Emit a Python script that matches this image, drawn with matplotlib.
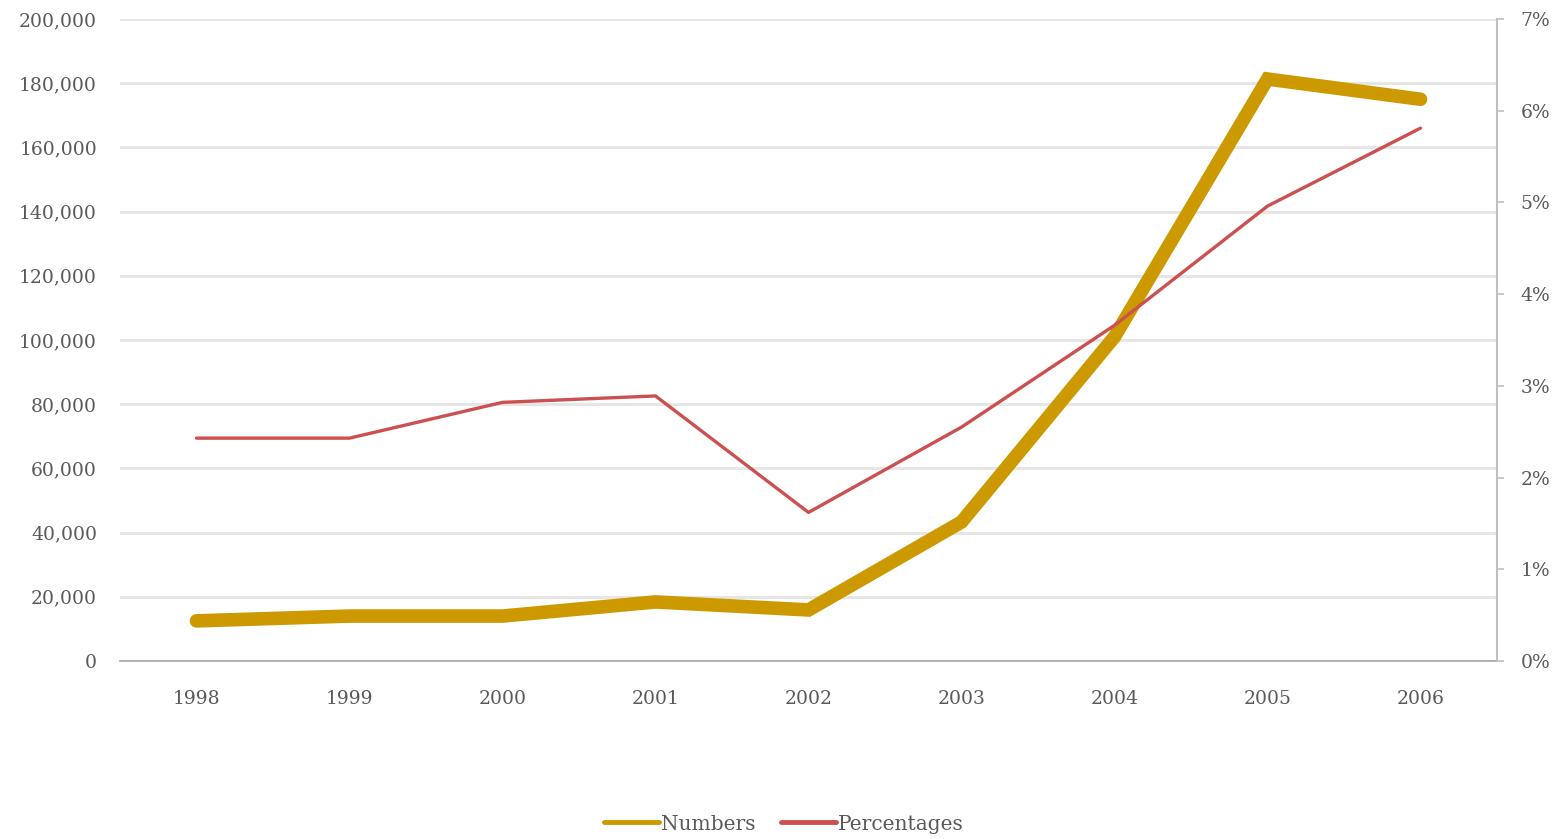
import matplotlib
matplotlib.use("Agg")
import matplotlib.pyplot as plt
from matplotlib.ticker import FuncFormatter

years = ["1998", "1999", "2000", "2001", "2002", "2003", "2004", "2005", "2006"]
numbers = [12500, 14000, 14000, 18400, 15900, 43300, 101000, 181300, 175000]
percentages = [2.43, 2.43, 2.82, 2.89, 1.62, 2.55, 3.66, 4.96, 5.81]

plt.rcParams['font.family'] = ['DejaVu Serif']
txt = '#595959'

fig = plt.figure(figsize=(15.68, 8.39), dpi=100)
ax = fig.add_axes([120/1568, 1-661/839, (1497-120)/1568, (661-19)/839])
ax2 = ax.twinx()

x = list(range(len(years)))
l1, = ax.plot(x, numbers, color='#CC9900', lw=9.8, solid_capstyle='round', solid_joinstyle='miter', label='Numbers', zorder=3)
l2, = ax2.plot(x, percentages, color='#CC5050', lw=2.4, solid_capstyle='round', label='Percentages', zorder=3)

ax.set_xlim(-0.5, 8.5)
ax.set_ylim(0, 200000)
ax2.set_ylim(0, 7)
ax.set_yticks(range(0, 200001, 20000))
ax.yaxis.set_major_formatter(FuncFormatter(lambda v, p: f"{int(v):,}"))
ax2.set_yticks(range(0, 8))
ax2.yaxis.set_major_formatter(FuncFormatter(lambda v, p: f"{int(v)}%"))
ax.set_xticks(x)
ax.set_xticklabels(years)

ax.grid(axis='y', color='#E6E6E6', lw=2.2)
ax.set_axisbelow(True)
for s in ['top', 'left', 'right']:
    ax.spines[s].set_visible(False)
ax.spines['bottom'].set_color('#A6A6A6')
ax.spines['bottom'].set_linewidth(1.2)
for s in ['top', 'left', 'bottom']:
    ax2.spines[s].set_visible(False)
ax2.spines['right'].set_color('#BFBFBF')
ax2.spines['right'].set_linewidth(1.5)

fs = 13.5
ax.tick_params(axis='y', length=0, labelsize=fs, labelcolor=txt, pad=16.5)
ax.tick_params(axis='x', length=0, labelsize=fs, labelcolor=txt, pad=21)
ax2.tick_params(axis='y', length=5, width=1.2, color='#BFBFBF', labelsize=fs, labelcolor=txt, pad=12, direction='out')

fig.legend(handles=[l1, l2], labels=['Numbers', 'Percentages'], loc='center', bbox_to_anchor=(0.5, 1-824/839),
           ncol=2, frameon=False, fontsize=14.5, labelcolor=txt, handlelength=2.7, handletextpad=0.1,
           columnspacing=1.3)
leg = fig.legends[0]
for h in leg.legend_handles:
    h.set_linewidth(3.5)

fig.savefig("out.png", dpi=100)
